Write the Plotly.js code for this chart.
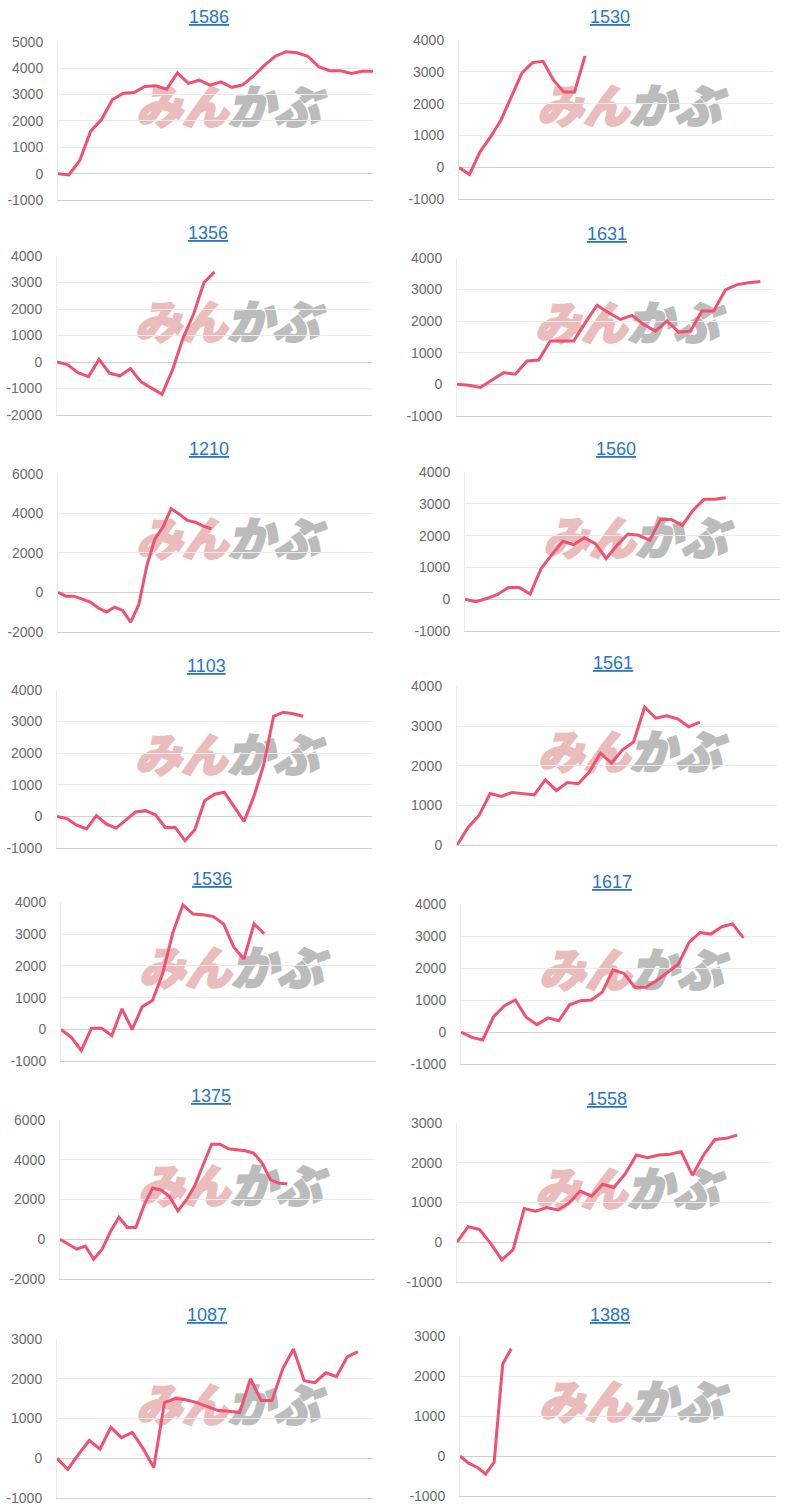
<!DOCTYPE html>
<html><head><meta charset="utf-8">
<script src="https://cdn.plot.ly/plotly-3.0.1.min.js"></script>
<style>html,body{margin:0;padding:0;background:#fff}#chart{width:800px;height:1512px}</style>
</head><body><div id="chart"></div>
<script>
// ---- data ----
const codes = ['1586','1530','1356','1631','1210','1560','1103','1561','1536','1617','1375','1558','1087','1388'];

const s1586 = [0,-50,500,1600,2050,2800,3050,3070,3300,3330,3200,3820,3420,3540,3350,3480,3270,3360,3700,4100,4450,4620,4580,4450,4050,3900,3900,3800,3880,3880];
const s1530 = [0,-220,490,960,1490,2220,2970,3290,3330,2740,2370,2370,3500];
const s1356 = [0,-100,-400,-550,100,-420,-520,-250,-750,-980,-1220,-300,900,1800,3000,3400];
const s1631 = [0,-30,-100,140,370,320,740,770,1370,1370,1370,1950,2500,2260,2050,2180,1890,1680,2000,1650,1680,2320,2320,2980,3150,3210,3250];
const s1210 = [0,-190,-190,-320,-490,-790,-990,-740,-910,-1500,-620,1360,2710,3300,4230,3970,3640,3550,3350,3220];
const s1560 = [0,-80,20,150,370,370,160,960,1400,1820,1720,1930,1750,1280,1700,2050,2010,1850,2510,2510,2320,2800,3140,3140,3190];
const s1103 = [0,-70,-280,-400,20,-240,-370,-100,140,180,50,-350,-350,-770,-420,490,700,760,310,-160,630,1630,3160,3290,3240,3160];
const s1561 = [0,450,750,1300,1230,1330,1300,1270,1650,1380,1580,1550,1850,2320,2070,2400,2600,3480,3200,3260,3180,2980,3100];
const s1536 = [0,-240,-660,40,40,-190,650,0,720,910,1750,3040,3920,3630,3610,3550,3320,2590,2220,3320,3010];
const s1617 = [0,-170,-250,480,820,1000,460,230,440,350,850,980,1000,1240,1940,1830,1400,1400,1600,1860,2120,2800,3110,3060,3290,3380,2940];
const s1375 = [0,-250,-500,-340,-1000,-500,390,1110,590,590,1730,2570,2480,2150,1430,1980,2690,3750,4780,4780,4550,4500,4450,4330,3830,2990,2820,2790];
const s1558 = [0,390,320,-30,-450,-190,850,780,870,810,990,1290,1160,1460,1380,1720,2200,2130,2200,2220,2280,1690,2200,2590,2620,2700];
const s1087 = [0,-280,100,450,230,780,520,650,250,-230,1400,1500,1470,1400,1300,1200,1180,1150,2000,1450,1450,2250,2750,1950,1900,2150,2050,2550,2680];
const s1388 = [0,-180,-280,-450,-150,2300,2680];

const series = [s1586,s1530,s1356,s1631,s1210,s1560,s1103,s1561,s1536,s1617,s1375,s1558,s1087,s1388];

const ticks4 = [-1000,0,1000,2000,3000,4000];
const ticks5 = [-1000,0,1000,2000,3000,4000,5000];
const ticksNeg2 = [-2000,-1000,0,1000,2000,3000,4000];
const ticks6 = [-2000,0,2000,4000,6000];
const ticks0to4 = [0,1000,2000,3000,4000];
const ticks3 = [-1000,0,1000,2000,3000];
const yTicks = [ticks5,ticks4,ticksNeg2,ticks4,ticks6,ticks4,ticks4,ticks0to4,ticks4,ticks4,ticks6,ticks3,ticks3,ticks3];

// number of x slots per chart (axis extent)
const xMax = [29,30,30,27,39,29,32,29,31,29,37.4,28.1,29.4,37];

// ---- layout geometry (pixels) ----
const boxes = [
  {l:58,r:373,t:41.7,b:200,tx:209,ty:17.5},
  {l:459,r:774,t:40,b:199.3,tx:610,ty:17},
  {l:57,r:372,t:256,b:415,tx:208,ty:233},
  {l:457,r:772,t:257.7,b:416,tx:607,ty:234},
  {l:58,r:373,t:473.7,b:632,tx:209,ty:449.5},
  {l:465,r:780,t:472,b:631,tx:616,ty:448.7},
  {l:57,r:372,t:689.7,b:848,tx:207,ty:665.5},
  {l:457,r:777,t:686.3,b:845.3,tx:613,ty:663},
  {l:61,r:376,t:902.3,b:1061.3,tx:212,ty:879},
  {l:461,r:776,t:904,b:1064,tx:612,ty:882},
  {l:60,r:375,t:1120,b:1279,tx:211,ty:1096},
  {l:457,r:772,t:1123.3,b:1281.7,tx:607,ty:1099},
  {l:57,r:373,t:1339,b:1498,tx:207,ty:1315},
  {l:460,r:776,t:1336,b:1496,tx:610,ty:1315}
];

const W = 800, H = 1512;
const lineColor = '#f2506f';
const traces = [];
const layout = {
  width: W, height: H,
  margin: {l:0, r:0, t:0, b:0},
  paper_bgcolor: '#ffffff',
  plot_bgcolor: 'rgba(0,0,0,0)',
  showlegend: false,
  font: {family: 'Liberation Sans, Arial, sans-serif', size: 14, color: '#6b6b6b'},
  annotations: [],
  shapes: []
};

const wmPink = '#ebbcbc', wmGrey = '#bcbcbc';
const wmText = '<span style="color:' + wmPink + ';stroke:' + wmPink + ';stroke-width:2.2px">みん</span>' +
               '<span style="color:' + wmGrey + ';stroke:' + wmGrey + ';stroke-width:2.2px">かぶ</span>';

series.forEach((vals, k) => {
  const n = k + 1;
  const id = n === 1 ? '' : String(n);
  const bx = boxes[k];
  traces.push({
    type: 'scatter', mode: 'lines',
    x: vals.map((_, i) => i), y: vals,
    xaxis: 'x' + id, yaxis: 'y' + id,
    line: {color: lineColor, width: 3},
    hoverinfo: 'skip'
  });
  const tv = yTicks[k];
  layout['xaxis' + id] = {
    domain: [bx.l / W, bx.r / W],
    anchor: 'y' + id,
    range: [0, xMax[k]],
    showgrid: false, zeroline: false, showticklabels: false, ticks: '',
    showline: true, linecolor: '#cfcfcf', linewidth: 1,
    fixedrange: true
  };
  layout['yaxis' + id] = {
    domain: [1 - bx.b / H, 1 - bx.t / H],
    anchor: 'x' + id,
    range: [tv[0], tv[tv.length - 1]],
    tickvals: tv, ticktext: tv.map(v => String(v)),
    showgrid: true, gridcolor: '#ebebeb', gridwidth: 1,
    zeroline: true, zerolinecolor: '#cfcfcf', zerolinewidth: 1,
    showline: true, linecolor: '#ebebeb', linewidth: 1,
    ticks: '', ticklabelstandoff: 11,
    tickfont: {family: 'Liberation Sans, Arial, sans-serif', size: 14, color: '#6b6b6b'},
    fixedrange: true
  };
  layout.annotations.push({
    xref: 'paper', yref: 'paper',
    x: bx.tx / W, y: 1 - bx.ty / H,
    xanchor: 'center', yanchor: 'middle',
    text: '<span style="text-decoration:underline">' + codes[k] + '</span>',
    showarrow: false,
    font: {family: 'Liberation Sans, Arial, sans-serif', size: 18, color: '#2a76c6'}
  });
  layout.shapes.push({
    type: 'rect', layer: 'below',
    xref: 'x' + id + ' domain', yref: 'y' + id + ' domain',
    x0: 0.22, x1: 0.86, y0: 0.42, y1: 0.70,
    line: {width: 0}, fillcolor: 'rgba(0,0,0,0)',
    label: {
      text: wmText,
      textposition: 'middle center',
      font: {family: 'Noto Sans CJK JP, sans-serif', size: 46, color: wmGrey, weight: 900, style: 'italic'}
    }
  });
});

Plotly.newPlot('chart', traces, layout, {staticPlot: true, displayModeBar: false});
</script>
</body></html>
